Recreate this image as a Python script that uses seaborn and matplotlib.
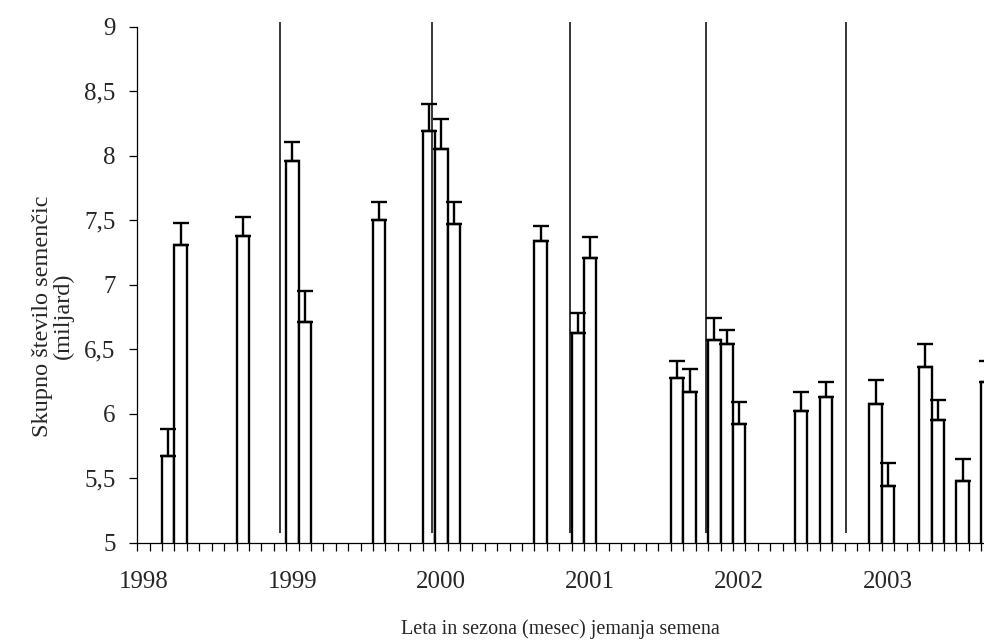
import numpy as np
import pandas as pd
import matplotlib.pyplot as plt
import seaborn as sns
from matplotlib.ticker import FixedLocator, FuncFormatter

sns.set_theme(style='ticks')
plt.rcParams['font.family'] = ['Liberation Serif', 'DejaVu Serif']

# --- data (month index: 0 = Jan 1998) ---
month = [2, 3, 8, 12, 13, 19, 23, 24, 25, 32, 35, 36, 43, 44,
         46, 47, 48, 53, 55, 59, 60, 63, 64, 66, 68]
seeds = [5.67, 7.31, 7.38, 7.96, 6.71, 7.50, 8.19, 8.05, 7.47, 7.34, 6.63, 7.21, 6.28, 6.17,
         6.57, 6.54, 5.92, 6.02, 6.13, 6.08, 5.44, 6.36, 5.95, 5.48, 6.25]
upper = [5.88, 7.48, 7.53, 8.11, 6.95, 7.64, 8.40, 8.29, 7.64, 7.46, 6.78, 7.37, 6.41, 6.35,
         6.74, 6.65, 6.09, 6.17, 6.25, 6.26, 5.62, 6.54, 6.11, 5.65, 6.41]
years = ['1998', '1999', '2000', '2001', '2002', '2003']
year_pos = [0, 12, 24, 36, 48, 60]
# hand-drawn separators between seasons (month units)
separators = [11.0, 23.25, 34.39, 45.3, 56.61]
sep_low, sep_high = 5.078, 9.039

df = pd.DataFrame({'month': month, 'seeds': seeds})
err = np.array(upper) - np.array(seeds)

fig = plt.figure(figsize=(9.84, 6.41), dpi=100)
ax = fig.add_axes([0.1395, 0.153, 0.8605, 0.805])

sns.barplot(data=df, x='month', y='seeds', native_scale=True, width=1.0,
            color='white', edgecolor='black', linewidth=1.7, saturation=1,
            errorbar=None, ax=ax, zorder=2)
ax.errorbar(month, seeds, yerr=[np.zeros_like(err), err], fmt='none',
            ecolor='black', elinewidth=1.7, capsize=5.6, capthick=1.7, zorder=3)
ax.vlines(separators, sep_low, sep_high, colors='black', linewidth=1.1,
          clip_on=False, zorder=4)

ax.set_ylim(5, 9)
ax.set_xlim(-0.5, 67.73)
ax.set_yticks(np.arange(5, 9.01, 0.5))
ax.yaxis.set_major_formatter(FuncFormatter(lambda v, p: f'{v:g}'.replace('.', ',')))
ax.set_xticks(year_pos)
ax.set_xticklabels(years)
ax.xaxis.set_minor_locator(FixedLocator(np.arange(-0.5, 69, 1)))

for s in ['top', 'right']:
    ax.spines[s].set_visible(False)
for s in ['left', 'bottom']:
    ax.spines[s].set_linewidth(0.9)
    ax.spines[s].set_color('black')

ax.tick_params(axis='y', length=5.5, width=0.9, color='black', pad=10, labelsize=18)
ax.tick_params(axis='x', which='major', length=0, pad=20, labelsize=18)
ax.tick_params(axis='x', which='minor', length=5.5, width=0.9, color='black')

ax.set_xlabel('Leta in sezona (mesec) jemanja semena', fontsize=14.5)
ax.xaxis.set_label_coords(0.5, -0.147)
ax.set_ylabel('Skupno število semenčic\n(miljard)', fontsize=17.5, linespacing=1.0)
ax.yaxis.set_label_coords(-0.075, 0.44)

plt.savefig('out.png', dpi=100)
